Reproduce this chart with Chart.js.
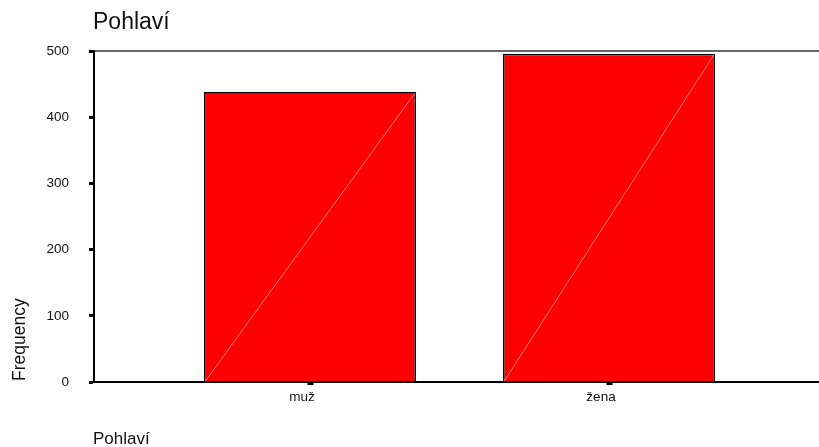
<!DOCTYPE html>
<html>
<head>
<meta charset="utf-8">
<script src="https://cdn.jsdelivr.net/npm/chart.js@4/dist/chart.umd.min.js"></script>
<style>
html,body{margin:0;padding:0;background:#fff;}
#wrap{width:819px;height:447px;position:relative;}
</style>
</head>
<body>
<div id="wrap"><canvas id="c" width="819" height="447"></canvas></div>
<script>
const categories = ['muž', 'žena'];
const frequency = [438, 496];
const yTicks = [0, 100, 200, 300, 400, 500];
const chartTitle = 'Pohlaví';
const xTitle = 'Pohlaví';
const yTitle = 'Frequency';

const FONT = '"Liberation Sans", Arial, sans-serif';

const deco = {
  id: 'deco',
  afterDatasetsDraw(chart) {
    const ctx = chart.ctx;
    const meta = chart.getDatasetMeta(0);
    ctx.save();
    ctx.strokeStyle = 'rgba(255,170,170,0.9)';
    ctx.lineWidth = 0.8;
    meta.data.forEach(b => {
      const l = b.x - b.width / 2, r = b.x + b.width / 2;
      ctx.beginPath();
      ctx.moveTo(l + 1, b.base);
      ctx.lineTo(r - 1, b.y + 1);
      ctx.stroke();
    });
    ctx.restore();
  },
  afterDraw(chart) {
    const ctx = chart.ctx;
    const a = chart.chartArea;
    ctx.save();
    ctx.strokeStyle = '#333';
    ctx.lineWidth = 1.5;
    ctx.beginPath();
    ctx.moveTo(a.left, a.top);
    ctx.lineTo(chart.width, a.top);
    ctx.stroke();
    ctx.fillStyle = '#111';
    ctx.font = '23px ' + FONT;
    ctx.textAlign = 'left';
    ctx.textBaseline = 'alphabetic';
    ctx.fillText(chartTitle, 93, 29);
    ctx.font = '17px ' + FONT;
    ctx.fillText(xTitle, 93, 444);
    ctx.save();
    ctx.translate(25, 381);
    ctx.rotate(-Math.PI / 2);
    ctx.font = '17.5px ' + FONT;
    ctx.fillText(yTitle, 0, 0);
    ctx.restore();
    ctx.restore();
  }
};

new Chart(document.getElementById('c'), {
  type: 'bar',
  data: {
    datasets: [{
      data: categories.map((c, i) => ({ x: i, y: frequency[i] })),
      backgroundColor: '#ff0000',
      borderColor: '#000',
      borderWidth: 1.6,
      barPercentage: 0.709,
      categoryPercentage: 1.0
    }]
  },
  plugins: [deco],
  options: {
    responsive: false,
    animation: false,
    events: [],
    layout: { padding: { top: 51, left: 0, right: 0, bottom: 0 } },
    plugins: { legend: { display: false }, tooltip: { enabled: false }, title: { display: false } },
    scales: {
      x: {
        type: 'linear',
        min: -0.7224,
        max: 1.7023,
        offset: false,
        z: 1,
        afterFit(s) { s.height = 65; },
        afterBuildTicks(s) { s.ticks = categories.map((c, i) => ({ value: i })); },
        ticks: {
          callback: (v) => categories[v],
          font: { family: FONT, size: 13.5 },
          color: '#111',
          padding: 4,
          labelOffset: -8,
          maxRotation: 0,
          autoSkip: false
        },
        grid: { offset: false, drawOnChartArea: false, drawTicks: true, tickLength: 3, tickWidth: 6, tickColor: '#000' },
        border: { display: true, color: '#000', width: 2 }
      },
      y: {
        min: 0,
        max: 500,
        z: 1,
        afterFit(s) { s.width = 94; },
        afterBuildTicks(s) { s.ticks = yTicks.map(v => ({ value: v })); },
        ticks: {
          font: { family: FONT, size: 13.5 },
          color: '#111',
          padding: 20
        },
        grid: { drawOnChartArea: false, drawTicks: true, tickLength: 5, tickWidth: 3, tickColor: '#000' },
        border: { display: true, color: '#000', width: 2 }
      }
    }
  }
});
</script>
</body>
</html>
